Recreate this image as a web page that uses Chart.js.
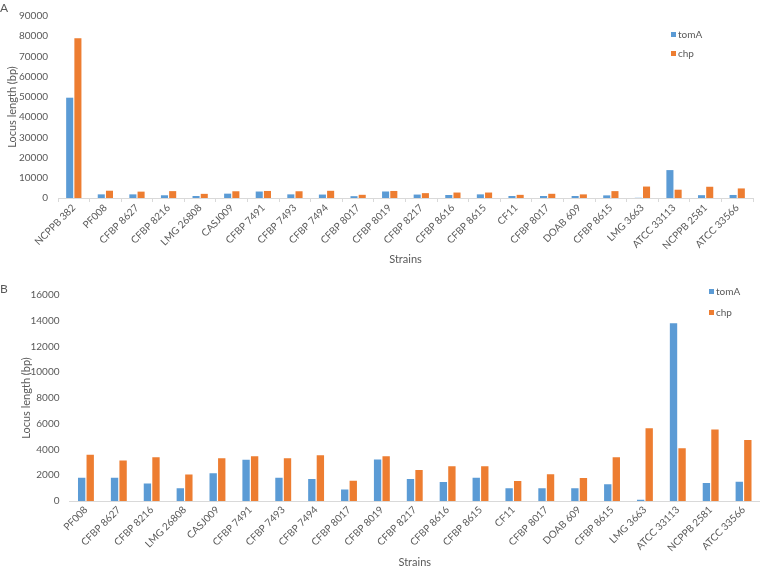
<!DOCTYPE html>
<html>
<head>
<meta charset="utf-8">
<script src="https://cdn.jsdelivr.net/npm/chart.js@4.4.1/dist/chart.umd.min.js"></script>
<style>
  body { margin: 0; background: #fff; }
  #wrap { position: relative; width: 760px; height: 569px; font-family: Lato, "Open Sans", sans-serif; color: #595959; }
  .panel { position: absolute; left: 0; width: 760px; }
  .panel canvas { position: absolute; left: 0; top: 0; }
  .tag { position: absolute; left: 0; font-size: 12px; color: #595959; line-height: 12px; }
  .legend { position: absolute; font-size: 10px; color: #595959; }
  .legend .item { position: absolute; left: 0; white-space: nowrap; line-height: 10px; }
  .legend .box { display: inline-block; width: 5px; height: 5px; margin-right: 2px; vertical-align: 1px; }
</style>
</head>
<body>
<div id="wrap">
  <div class="panel" id="panelA" style="top:0;height:268px">
    <canvas id="chartA" width="760" height="268"></canvas>
    <span class="tag" style="top:2px">A</span>
    <div class="legend" id="legendA" style="left:671px;top:29px"></div>
  </div>
  <div class="panel" id="panelB" style="top:268px;height:301px">
    <canvas id="chartB" width="760" height="301"></canvas>
    <span class="tag" style="top:15px">B</span>
    <div class="legend" id="legendB" style="left:709px;top:18px"></div>
  </div>
</div>
<script>
// Cepas (panel B); el panel A añade la cepa de referencia al inicio
const strains = ['PF008', 'CFBP 8627', 'CFBP 8216', 'LMG 26808', 'CASJ009', 'CFBP 7491', 'CFBP 7493',
  'CFBP 7494', 'CFBP 8017', 'CFBP 8019', 'CFBP 8217', 'CFBP 8616', 'CFBP 8615', 'CF11', 'CFBP 8017',
  'DOAB 609', 'CFBP 8615', 'LMG 3663', 'ATCC 33113', 'NCPPB 2581', 'ATCC 33566'];
const tomA = [1800, 1800, 1350, 1000, 2150, 3200, 1800, 1700, 900, 3220, 1700, 1480, 1800, 1000, 1000,
  1000, 1300, 100, 13800, 1400, 1500];
const chp = [3600, 3150, 3400, 2050, 3330, 3480, 3330, 3560, 1580, 3480, 2400, 2700, 2700, 1560, 2080,
  1790, 3400, 5660, 4100, 5560, 4730];

// Cepa de referencia (solo en el panel A)
const refStrain = 'NCPPB 382';
const refTomA = 49600;
const refChp = 79000;

// Escalas del eje Y
const yTicksA = { max: 90000, step: 10000 };
const yTicksB = { max: 16000, step: 2000 };

const seriesNames = ['tomA', 'chp'];
const seriesColors = ['#5B9BD5', '#ED7D31'];
const grey = '#595959';
const lineGrey = '#D9D9D9';
const fontFam = 'Lato, "Open Sans", sans-serif';

function buildLegend(id) {
  const el = document.getElementById(id);
  const gap = id === 'legendA' ? 19 : 21;
  seriesNames.forEach(function(name, i) {
    const item = document.createElement('div');
    item.className = 'item';
    item.style.top = (i * gap) + 'px';
    item.innerHTML = '<span class="box" style="background:' + seriesColors[i] + '"></span>' + name;
    el.appendChild(item);
  });
}

function makeChart(canvasId, labels, v1, v2, yTicks, box) {
  return new Chart(document.getElementById(canvasId), {
    type: 'bar',
    data: {
      labels: labels,
      datasets: [
        { label: seriesNames[0], data: v1, backgroundColor: seriesColors[0], borderWidth: 0 },
        { label: seriesNames[1], data: v2, backgroundColor: seriesColors[1], borderWidth: 0 }
      ]
    },
    options: {
      responsive: false,
      animation: false,
      categoryPercentage: 0.52,
      barPercentage: 0.86,
      layout: { padding: { top: box.top, right: box.right, bottom: 0, left: 0 } },
      plugins: { legend: { display: false }, tooltip: { enabled: false } },
      scales: {
        x: {
          grid: { offset: true, drawOnChartArea: false, drawTicks: box.ticks, tickLength: 4, color: lineGrey },
          border: { display: true, color: lineGrey, width: 1 },
          ticks: { color: grey, font: { family: fontFam, size: 10 }, minRotation: 45, maxRotation: 45, autoSkip: false, padding: box.ticks ? 0 : 3 },
          title: { display: true, text: 'Strains', color: grey, font: { family: fontFam, size: 11 }, padding: { top: 0, bottom: box.titleBottom } },
          afterFit: function(s) { s.height = box.xHeight; }
        },
        y: {
          min: 0,
          max: yTicks.max,
          grid: { display: false, drawTicks: false },
          border: { display: false },
          ticks: {
            stepSize: yTicks.step, color: grey, font: { family: fontFam, size: 10 }, padding: 10,
            callback: function(value) { return String(value); }
          },
          title: { display: true, text: 'Locus length (bp)', color: grey, font: { family: fontFam, size: 11 }, padding: { top: box.yTitle, bottom: 0 } },
          afterFit: function(s) { s.width = box.left; }
        }
      }
    }
  });
}

makeChart('chartA', [refStrain].concat(strains), [refTomA].concat(tomA), [refChp].concat(chp), yTicksA,
  { top: 12, right: 7, left: 58, xHeight: 70, titleBottom: 1.5, yTitle: 5.5, ticks: true });
makeChart('chartB', strains, tomA, chp, yTicksB,
  { top: 27, right: 0, left: 69.5, xHeight: 68, titleBottom: 0, yTitle: 19.5, ticks: false });

buildLegend('legendA');
buildLegend('legendB');
</script>
</body>
</html>
